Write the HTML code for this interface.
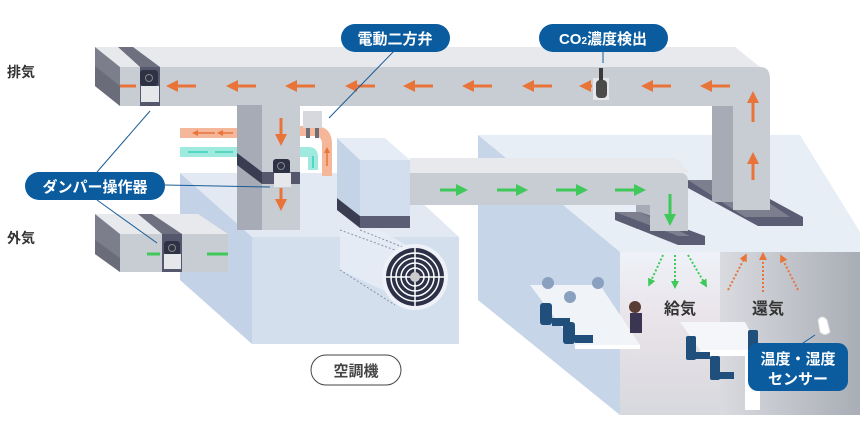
<!DOCTYPE html>
<html><head><meta charset="utf-8"><style>
html,body{margin:0;padding:0;background:#fff;}
svg{display:block;font-family:"Liberation Sans","Noto Sans CJK JP",sans-serif;}
</style></head><body>
<svg width="860" height="448" viewBox="0 0 860 448" xmlns="http://www.w3.org/2000/svg">
<defs>
<marker id="ao" viewBox="0 0 10 10" refX="5" refY="5" markerWidth="4" markerHeight="4" orient="auto"><path d="M0,0L10,5L0,10z" fill="#e8743a"/></marker>
<marker id="ag" viewBox="0 0 10 10" refX="5" refY="5" markerWidth="4" markerHeight="4" orient="auto"><path d="M0,0L10,5L0,10z" fill="#3ec95a"/></marker>
<linearGradient id="rw" x1="0" x2="1"><stop offset="0" stop-color="#d9dbe0"/><stop offset="1" stop-color="#a9adb5"/></linearGradient>
<linearGradient id="fw" x1="0" y1="0" x2="0" y2="1"><stop offset="0" stop-color="#eef2f8"/><stop offset="0.4" stop-color="#e9e4ea"/><stop offset="1" stop-color="#d7d8dd"/></linearGradient>
</defs>

<!-- ROOM -->
<polygon points="478,135 800,135 860,232 860,415 620,415 478,300" fill="#e8eef6"/>
<polygon points="478,135 620,252 620,415 478,300" fill="#c7d5e8"/>
<rect x="620" y="252" width="240" height="163" fill="url(#fw)"/>
<rect x="720" y="252" width="140" height="163" fill="url(#rw)"/>
<polygon points="530,285 600,285 640,345 575,345" fill="#f4f6fa" opacity="0.9"/>
<rect x="575" y="345" width="65" height="4" fill="#fff"/>
<polygon points="680,322 745,322 760,350 700,350" fill="#f4f6fa"/>
<polygon points="700,350 760,350 760,410 745,410 745,356 700,356" fill="#fff"/>
<g fill="#1f4f7a">
<rect x="540" y="303" width="12" height="22" rx="3"/><rect x="552" y="318" width="18" height="8"/>
<rect x="563" y="322" width="12" height="22" rx="3"/><rect x="575" y="335" width="18" height="8"/>
<rect x="686" y="336" width="10" height="24" rx="2"/><rect x="694" y="352" width="16" height="7"/>
<rect x="710" y="356" width="10" height="24" rx="2"/><rect x="718" y="372" width="16" height="7"/>
<rect x="748" y="330" width="10" height="22" rx="2"/>
</g>
<g fill="#8aa0bf"><circle cx="548" cy="283" r="6"/><circle cx="598" cy="283" r="6"/><circle cx="570" cy="297" r="6"/><circle cx="635" cy="307" r="6" fill="#5a3d35"/></g>
<rect x="630" y="313" width="12" height="20" fill="#3a3550"/>

<g stroke-dasharray="2,2" stroke-width="2">
<line x1="663" y1="255" x2="650" y2="283" stroke="#3ec95a" marker-end="url(#ag)"/>
<line x1="675" y1="255" x2="675" y2="285" stroke="#3ec95a" marker-end="url(#ag)"/>
<line x1="688" y1="255" x2="705" y2="284" stroke="#3ec95a" marker-end="url(#ag)"/>
<line x1="728" y1="290" x2="745" y2="257" stroke="#e8743a" marker-end="url(#ao)"/>
<line x1="763" y1="292" x2="763" y2="256" stroke="#e8743a" marker-end="url(#ao)"/>
<line x1="798" y1="290" x2="782" y2="258" stroke="#e8743a" marker-end="url(#ao)"/>
</g>
<text x="680" y="314" font-size="16" font-weight="bold" fill="#333" text-anchor="middle">給気</text>
<text x="768" y="314" font-size="16" font-weight="bold" fill="#333" text-anchor="middle">還気</text>
<path d="M818,320 q4,-6 9,0 l3,12 q-5,5 -10,0z" fill="#fff" stroke="#ddd"/>
<line x1="815" y1="335" x2="800" y2="345" stroke="#1a5c96"/>
<rect x="748" y="343" width="100" height="48" rx="10" fill="#0a5c9f"/>
<text x="798" y="364" font-size="15" font-weight="bold" fill="#fff" text-anchor="middle">温度・湿度</text>
<text x="798" y="384" font-size="15" font-weight="bold" fill="#fff" text-anchor="middle">センサー</text>

<!-- AHU -->
<polygon points="180,173 390,173 459,237 252,237" fill="#e3e9f3"/>
<polygon points="180,173 252,237 252,344 180,280" fill="#c3d2e7"/>
<rect x="252" y="237" width="207" height="107" fill="#d4dfee"/>
<polygon points="340,230 380,230 415,250 415,305 340,270" fill="#e7edf6" opacity="0.8"/>
<g stroke="#8a93a8" stroke-dasharray="2,2" fill="none"><line x1="340" y1="230" x2="395" y2="250"/><line x1="340" y1="270" x2="395" y2="305"/><line x1="360" y1="230" x2="410" y2="250"/></g>
<circle cx="415" cy="277" r="33" fill="#eef2f8"/>
<circle cx="415" cy="277" r="29" fill="#2d3148"/>
<g fill="none" stroke="#fff" stroke-width="1.5"><circle cx="415" cy="277" r="24"/><circle cx="415" cy="277" r="19"/><circle cx="415" cy="277" r="14"/><circle cx="415" cy="277" r="9"/><line x1="386" y1="277" x2="444" y2="277"/><line x1="415" y1="248" x2="415" y2="306"/></g>
<circle cx="415" cy="277" r="5" fill="#ccc"/>
<polygon points="337,138 385,138 410,160 360,160" fill="#e6ecf5"/>
<polygon points="337,138 360,160 360,228 337,210" fill="#c5d3e7"/>
<rect x="360" y="160" width="50" height="56" fill="#d2deee"/>
<polygon points="337,198 360,216 360,228 337,210" fill="#3a3d52"/>
<rect x="360" y="216" width="50" height="12" fill="#5a5d73"/>

<!-- supply duct -->
<polygon points="410,158 676,158 690,173 410,173" fill="#e7e9ed"/>
<path d="M410,173 H680 q8,0 8,8 V225 H636 V205 H410z" fill="#c8ccd3"/>
<rect x="636" y="205" width="14" height="24" fill="#a6abb6"/>
<polygon points="615,212 640,212 705,236 705,245 678,245 615,220" fill="#5a5d73"/>
<polygon points="615,212 640,212 690,236 678,236" fill="#7d7f8f"/>
<rect x="650" y="205" width="38" height="26" fill="#c8ccd3"/>
<g stroke="#3ec95a" stroke-width="3">
<line x1="440" y1="190" x2="462" y2="190" marker-end="url(#ag)"/><line x1="497" y1="190" x2="522" y2="190" marker-end="url(#ag)"/>
<line x1="556" y1="190" x2="582" y2="190" marker-end="url(#ag)"/><line x1="615" y1="190" x2="640" y2="190" marker-end="url(#ag)"/>
<line x1="670" y1="194" x2="670" y2="220" marker-end="url(#ag)"/>
</g>

<!-- right return duct vertical + plate -->
<polygon points="688,180 735,180 803,217 803,226 758,226 688,188" fill="#5a5d73"/>
<polygon points="688,180 735,180 790,217 745,217" fill="#7d7f8f"/>
<rect x="712" y="100" width="22" height="102" fill="#a6abb6"/>
<rect x="733" y="100" width="37" height="110" fill="#c8ccd3"/>

<!-- top exhaust duct -->
<polygon points="95,47 735,47 770,75 120,67" fill="#e7e9ed"/>
<path d="M120,67 H760 q10,0 10,12 V106 H120z" fill="#c8ccd3"/>
<polygon points="95,47 120,67 120,106 95,86" fill="#7c7f8b"/>
<polygon points="95,66 120,86 120,106 95,86" fill="#6a6d79"/>
<polygon points="118,47 133,47 160,67 140,67" fill="#6e7080"/>
<rect x="140" y="67" width="20" height="39" fill="#55586c"/>
<rect x="140" y="70" width="18" height="16" rx="3" fill="#2f3244"/><circle cx="149" cy="78" r="3.5" fill="none" stroke="#888"/>
<rect x="141" y="86" width="18" height="16" fill="#e6e7ea"/>
<g stroke="#e8743a" stroke-width="3">
<line x1="120" y1="86" x2="136" y2="86"/>
<line x1="196" y1="86" x2="172" y2="86" marker-end="url(#ao)"/>
<line x1="256" y1="86" x2="232" y2="86" marker-end="url(#ao)"/>
<line x1="315" y1="86" x2="291" y2="86" marker-end="url(#ao)"/>
<line x1="375" y1="86" x2="351" y2="86" marker-end="url(#ao)"/>
<line x1="433" y1="86" x2="409" y2="86" marker-end="url(#ao)"/>
<line x1="492" y1="86" x2="468" y2="86" marker-end="url(#ao)"/>
<line x1="552" y1="86" x2="528" y2="86" marker-end="url(#ao)"/>
<line x1="592" y1="86" x2="585" y2="86" marker-end="url(#ao)"/>
<line x1="671" y1="86" x2="647" y2="86" marker-end="url(#ao)"/>
<line x1="730" y1="86" x2="706" y2="86" marker-end="url(#ao)"/>
<line x1="753" y1="180" x2="753" y2="158" marker-end="url(#ao)"/>
<line x1="753" y1="122" x2="753" y2="97" marker-end="url(#ao)"/>
</g>
<rect x="593" y="78" width="16" height="22" fill="#e5e6ea"/>
<rect x="599" y="68" width="4" height="14" fill="#3a3a3a"/>
<rect x="596" y="80" width="11" height="18" rx="4" fill="#4a4a4a"/>

<!-- vertical exhaust duct -->
<rect x="237" y="105" width="26" height="125" fill="#a6abb6"/>
<rect x="262" y="105" width="38" height="125" fill="#c8ccd3"/>
<polygon points="237,153 262,172 262,184 237,165" fill="#3a3d52"/>
<rect x="262" y="172" width="38" height="12" fill="#55586c"/>
<rect x="273" y="159" width="17" height="15" rx="3" fill="#2f3244"/><circle cx="281" cy="166" r="3.5" fill="none" stroke="#888"/>
<rect x="274" y="173" width="17" height="14" fill="#e6e7ea"/>
<g stroke="#e8743a" stroke-width="3">
<line x1="281" y1="118" x2="281" y2="140" marker-end="url(#ao)"/>
<line x1="281" y1="188" x2="281" y2="205" marker-end="url(#ao)"/>
</g>
<rect x="180" y="128" width="57" height="10" fill="#f4b79a"/>
<rect x="180" y="147" width="57" height="10" fill="#9eeadf"/>
<g stroke-width="1.5"><line x1="215" y1="133" x2="195" y2="133" stroke="#e8743a" marker-end="url(#ao)"/><line x1="233" y1="133" x2="220" y2="133" stroke="#e8743a" marker-end="url(#ao)"/>
<line x1="188" y1="152" x2="208" y2="152" stroke="#3ccfb8"/><line x1="215" y1="152" x2="233" y2="152" stroke="#3ccfb8"/></g>
<path d="M300,147 h8 q10,0 10,10 v13 h-10 v-13 h-8z" fill="#9eeadf"/>
<path d="M300,126 h14 q18,0 18,18 v32 h-10 v-32 q0,-8 -8,-8 h-14z" fill="#f4b79a"/>
<line x1="327" y1="166" x2="327" y2="150" stroke="#e8743a" stroke-width="1.5" marker-end="url(#ao)"/>
<line x1="313" y1="156" x2="313" y2="168" stroke="#3ccfb8" stroke-width="1.5"/>
<rect x="303" y="111" width="19" height="17" fill="#d6d8dd"/>
<rect x="306" y="128" width="4" height="10" fill="#6b6d78"/><rect x="315" y="128" width="4" height="10" fill="#6b6d78"/>

<!-- outside air duct -->
<polygon points="95,214 198,214 228,234 120,234" fill="#e7e9ed"/>
<polygon points="95,214 120,234 120,272 95,254" fill="#7c7f8b"/>
<polygon points="95,240 120,258 120,272 95,254" fill="#6a6d79"/>
<rect x="120" y="234" width="108" height="38" fill="#c8ccd3"/>
<polygon points="138,214 152,214 182,234 162,234" fill="#6e7080"/>
<rect x="162" y="234" width="20" height="38" fill="#55586c"/>
<rect x="164" y="241" width="16" height="14" rx="3" fill="#2f3244"/><circle cx="172" cy="248" r="3.5" fill="none" stroke="#888"/>
<rect x="164" y="254" width="17" height="15" fill="#e6e7ea"/>
<line x1="147" y1="254" x2="160" y2="254" stroke="#3ec95a" stroke-width="3"/>
<line x1="207" y1="254" x2="228" y2="254" stroke="#3ec95a" stroke-width="3"/>

<!-- labels -->
<text x="7" y="77" font-size="14" font-weight="bold" fill="#333">排気</text>
<text x="7" y="243" font-size="14" font-weight="bold" fill="#333">外気</text>
<g stroke="#1a5c96" stroke-width="1" fill="none">
<line x1="395" y1="50" x2="329" y2="118"/>
<line x1="97" y1="172" x2="150" y2="111"/>
<line x1="165" y1="185" x2="270" y2="187"/>
<line x1="97" y1="200" x2="157" y2="243"/>
<line x1="603" y1="52" x2="603" y2="63"/>
</g>
<rect x="341" y="24" width="109" height="28" rx="14" fill="#0a5c9f"/>
<text x="395" y="44" font-size="15" font-weight="bold" fill="#fff" text-anchor="middle">電動二方弁</text>
<rect x="539" y="24" width="129" height="28" rx="14" fill="#0a5c9f"/>
<text x="603" y="44" font-size="15" font-weight="bold" fill="#fff" text-anchor="middle">CO<tspan font-size="10">2</tspan>濃度検出</text>
<rect x="25" y="172" width="140" height="28" rx="14" fill="#0a5c9f"/>
<text x="95" y="192" font-size="15" font-weight="bold" fill="#fff" text-anchor="middle">ダンパー操作器</text>
<rect x="311" y="355" width="90" height="30" rx="15" fill="#fff" stroke="#444"/>
<text x="356" y="376" font-size="15" font-weight="bold" fill="#444" text-anchor="middle">空調機</text>
</svg>
</body></html>
